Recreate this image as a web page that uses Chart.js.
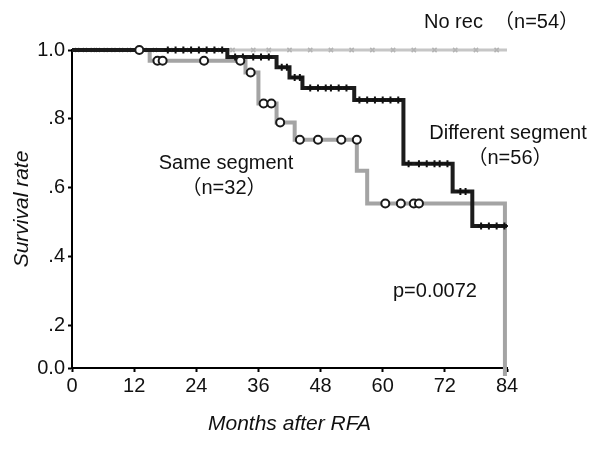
<!DOCTYPE html>
<html>
<head>
<meta charset="utf-8">
<script src="https://cdn.jsdelivr.net/npm/chart.js@4.4.1/dist/chart.umd.min.js"></script>
<style>
html,body{margin:0;padding:0;background:#fff}
</style>
</head>
<body>
<canvas id="km" width="590" height="456"></canvas>
<script>
// axis ticks
var xTicks = [0, 12, 24, 36, 48, 60, 72, 84];
var yTickVals = [0.078, 0.2, 0.4, 0.6, 0.8, 1.0];
var yTickLabels = ['0.0', '.2', '.4', '.6', '.8', '1.0'];

// No rec (n=54)
var noRecT = [0, 84];
var noRecS = [1, 1];
var noRecCensT = [1, 2.5, 4, 5, 6.5, 8, 9.5, 11, 14, 16, 19, 22, 25, 28, 31, 35, 38, 42, 46, 50, 54, 58, 62, 66, 70, 74, 78, 82];

// Same segment (n=32)
var sameT = [0, 15, 33.5, 36, 39.5, 43, 55, 57, 83.6];
var sameS = [1, 0.969, 0.935, 0.845, 0.79, 0.74, 0.65, 0.555, 0];
var sameCensT = [13, 16.5, 17.5, 25.5, 32.5, 34.5, 37, 38.5, 40.2, 44, 47.5, 52, 55, 60.5, 63.5, 66, 67];
var sameCensS = [1, 0.969, 0.969, 0.969, 0.969, 0.935, 0.845, 0.845, 0.79, 0.74, 0.74, 0.74, 0.74, 0.555, 0.555, 0.555, 0.555];

// Different segment (n=56)
var diffT = [0, 30, 39.5, 42, 44.5, 54.5, 64, 73.5, 77.3, 84];
var diffS = [1, 0.98, 0.95, 0.92, 0.89, 0.855, 0.67, 0.59, 0.49, 0.49];
var diffCensT = [18.5, 20, 21.5, 23, 24.5, 26, 27.5, 29, 31.5, 33, 35, 36.5, 38, 40.5, 41.5, 43, 44, 46, 47.5, 49, 50, 51.5, 53, 55.5, 57, 58.5, 60, 61.5, 63, 65, 67, 68.5, 70, 71, 72.5, 75, 76, 79, 80.5, 82, 83.5];
var diffCensS = [1, 1, 1, 1, 1, 1, 1, 1, 0.98, 0.98, 0.98, 0.98, 0.98, 0.95, 0.95, 0.92, 0.92, 0.89, 0.89, 0.89, 0.89, 0.89, 0.89, 0.855, 0.855, 0.855, 0.855, 0.855, 0.855, 0.67, 0.67, 0.67, 0.67, 0.67, 0.67, 0.59, 0.59, 0.49, 0.49, 0.49, 0.49];

function pts(t, s) {
  return t.map(function(v, i){ return {x: v, y: s[i]}; });
}
function flat(t, level) {
  return t.map(function(v){ return {x: v, y: level}; });
}

var FONT = "'Liberation Sans', Arial, 'Noto Sans CJK JP', sans-serif";

var labels = [
  {text: 'No rec  （n=54）', x: 424, y: 22, align: 'left'},
  {text: 'Different segment', x: 508, y: 133, align: 'center'},
  {text: '（n=56）', x: 510, y: 158, align: 'center'},
  {text: 'Same segment', x: 226, y: 163, align: 'center'},
  {text: '（n=32）', x: 224, y: 188, align: 'center'},
  {text: 'p=0.0072', x: 393, y: 291, align: 'left'}
];

var textPlugin = {
  id: 'kmText',
  afterDraw: function(chart) {
    var ctx = chart.ctx;
    ctx.save();
    ctx.fillStyle = '#111';
    ctx.font = '20px ' + FONT;
    ctx.textBaseline = 'middle';
    labels.forEach(function(l){
      ctx.textAlign = l.align;
      ctx.fillText(l.text, l.x, l.y);
    });
    ctx.restore();
  }
};

new Chart(document.getElementById('km'), {
  type: 'line',
  data: {
    datasets: [
      {
        label: 'No rec', data: pts(noRecT, noRecS), stepped: true,
        borderColor: '#c6c6c6', borderWidth: 3, pointRadius: 0, order: 6, clip: 8
      },
      {
        label: 'No rec cens', data: flat(noRecCensT, 1), showLine: false,
        pointStyle: 'crossRot', pointRadius: 3, borderColor: '#b4b4b4', pointBorderWidth: 1.5, order: 5, clip: 8
      },
      {
        label: 'Same segment', data: pts(sameT, sameS), stepped: true,
        borderColor: '#a4a4a4', borderWidth: 4, pointRadius: 0, order: 4, clip: 8
      },
      {
        label: 'Different segment', data: pts(diffT, diffS), stepped: true,
        borderColor: '#1c1c1c', borderWidth: 4, pointRadius: 0, order: 3, clip: 8
      },
      {
        label: 'Different cens', data: pts(diffCensT, diffCensS), showLine: false,
        pointStyle: 'cross', pointRadius: 3.5, borderColor: '#111', pointBorderWidth: 2, order: 2, clip: 8
      },
      {
        label: 'Same cens', data: pts(sameCensT, sameCensS), showLine: false,
        pointStyle: 'circle', pointRadius: 4, backgroundColor: '#fff', borderColor: '#1a1a1a', pointBorderWidth: 2, order: 1, clip: 8
      }
    ]
  },
  options: {
    responsive: false,
    animation: false,
    layout: {padding: {left: 0, top: 50, right: 83, bottom: 0}},
    plugins: {legend: {display: false}, tooltip: {enabled: false}},
    scales: {
      x: {
        type: 'linear', min: 0, max: 84,
        afterBuildTicks: function(s){ s.ticks = xTicks.map(function(v){ return {value: v}; }); },
        afterFit: function(s){ s.height = 88; },
        border: {color: '#000', width: 2},
        grid: {drawOnChartArea: false, tickLength: 4, tickWidth: 2, color: '#000'},
        ticks: {color: '#111', padding: 2, font: {family: FONT, size: 20}},
        title: {display: true, text: 'Months after RFA', color: '#111', padding: {top: 0, bottom: 19},
          font: {family: FONT, size: 21, style: 'italic'}}
      },
      y: {
        type: 'linear', min: yTickVals[0], max: 1,
        afterBuildTicks: function(s){ s.ticks = yTickVals.map(function(v){ return {value: v}; }); },
        afterFit: function(s){ s.width = 72; },
        border: {color: '#000', width: 2},
        grid: {drawOnChartArea: false, tickLength: 4, tickWidth: 2, color: '#000'},
        ticks: {color: '#111', padding: 3, font: {family: FONT, size: 20},
          callback: function(v, i){ return yTickLabels[i]; }},
        title: {display: true, text: 'Survival rate', color: '#111', padding: {top: 10, bottom: 0},
          font: {family: FONT, size: 21, style: 'italic'}}
      }
    }
  },
  plugins: [textPlugin]
});
</script>
</body>
</html>
